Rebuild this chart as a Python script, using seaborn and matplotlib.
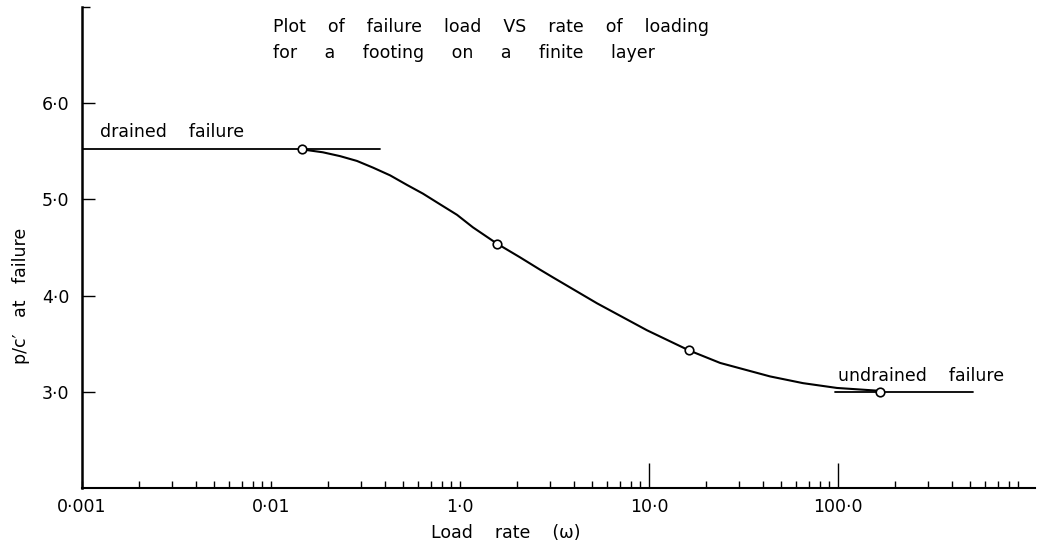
import matplotlib
matplotlib.use("Agg")
import matplotlib.pyplot as plt
import seaborn as sns
import pandas as pd
from matplotlib.ticker import FixedLocator, FixedFormatter, LogLocator, NullFormatter

# ------------------------------------------------------------
# values
# (x is in the log units of the drawn axis, y is p/c')
# ------------------------------------------------------------
curve_rate = [0.0146, 0.0188, 0.0232, 0.0285, 0.0347, 0.0427, 0.0525, 0.0637,
              0.0783, 0.0964, 0.117, 0.157, 0.207, 0.265, 0.310, 0.531, 0.975,
              1.63, 2.38, 4.37, 6.53, 9.88, 16.7]
curve_load = [5.52, 5.49, 5.45, 5.40, 5.33, 5.25, 5.15, 5.06,
              4.95, 4.84, 4.71, 4.54, 4.40, 4.27, 4.19, 3.92, 3.64,
              3.43, 3.30, 3.16, 3.09, 3.04, 3.01]

point_rate = [0.0146, 0.157, 1.63, 16.7]
point_load = [5.52, 4.54, 3.43, 3.00]

drained_rate = [0.001, 0.0378]
drained_load = [5.52, 5.52]
undrained_rate = [9.64, 51.8]
undrained_load = [3.0, 3.0]

xtick_pos = [0.001, 0.01, 0.1, 1.0, 10.0]
xtick_labels = ["0·001", "0·01", "1·0", "10·0", "100·0"]
ytick_pos = [3, 4, 5, 6, 7]
ytick_labels = ["3·0", "4·0", "5·0", "6·0", ""]

curve_df = pd.DataFrame({"rate": curve_rate, "load": curve_load})
points_df = pd.DataFrame({"rate": point_rate, "load": point_load})

sns.set_style("ticks", {"axes.edgecolor": "black", "text.color": "black",
                        "axes.labelcolor": "black", "xtick.color": "black",
                        "ytick.color": "black"})
plt.rcParams["font.family"] = ["DejaVu Sans"]

fig = plt.figure(figsize=(10.39, 5.49), dpi=100)
ax = fig.add_axes([0.0789, 0.1111, 0.9171, 0.8761])

# asymptote lines
sns.lineplot(x=drained_rate, y=drained_load, color="black", lw=1.3, ax=ax)
sns.lineplot(x=undrained_rate, y=undrained_load, color="black", lw=1.3, ax=ax)

# main curve + computed points
sns.lineplot(data=curve_df, x="rate", y="load", sort=False, estimator=None,
             color="black", lw=1.5, ax=ax)
sns.scatterplot(data=points_df, x="rate", y="load", s=38, facecolor="white",
                edgecolor="black", linewidth=1.2, zorder=5, ax=ax)

ax.set_xscale("log")
ax.set_xlim(0.001, 110)
ax.set_ylim(2.0, 7.0)

ax.xaxis.set_major_locator(FixedLocator(xtick_pos))
ax.xaxis.set_major_formatter(FixedFormatter(xtick_labels))
ax.xaxis.set_minor_locator(LogLocator(base=10, subs=range(2, 10)))
ax.xaxis.set_minor_formatter(NullFormatter())
ax.yaxis.set_major_locator(FixedLocator(ytick_pos))
ax.yaxis.set_major_formatter(FixedFormatter(ytick_labels))

ax.tick_params(axis="x", which="major", direction="in", length=5, width=1,
               labelsize=12.5, pad=7)
ax.tick_params(axis="x", which="minor", direction="in", length=5, width=1)
ax.tick_params(axis="y", which="major", direction="in", length=9, width=1,
               labelsize=12.5, pad=9)

# the 10 and 100 marks are drawn longer in the original
xticks = ax.xaxis.get_major_ticks()
xticks[3].tick1line.set_markersize(18)
xticks[4].tick1line.set_markersize(18)
ax.yaxis.get_major_ticks()[4].tick1line.set_markersize(6)

sns.despine(ax=ax)
ax.spines["left"].set_linewidth(1.8)
ax.spines["bottom"].set_linewidth(1.5)

ax.set_xlabel("Load    rate    (ω)", fontsize=12.5)
ax.set_ylabel("p/c′   at   failure", fontsize=12.5)
ax.xaxis.set_label_coords(0.445, -0.075)
ax.yaxis.set_label_coords(-0.055, 0.40)

ax.text(0.00124, 5.70, "drained    failure", fontsize=12.5, va="center", ha="left")
ax.text(10.0, 3.16, "undrained    failure", fontsize=12.5, va="center", ha="left")
ax.text(0.2, 0.958, "Plot    of    failure    load    VS    rate    of    loading",
        transform=ax.transAxes, fontsize=12.5, va="center", ha="left")
ax.text(0.2, 0.904, "for     a     footing     on     a     finite     layer",
        transform=ax.transAxes, fontsize=12.5, va="center", ha="left")

fig.savefig("out.png", dpi=100)
